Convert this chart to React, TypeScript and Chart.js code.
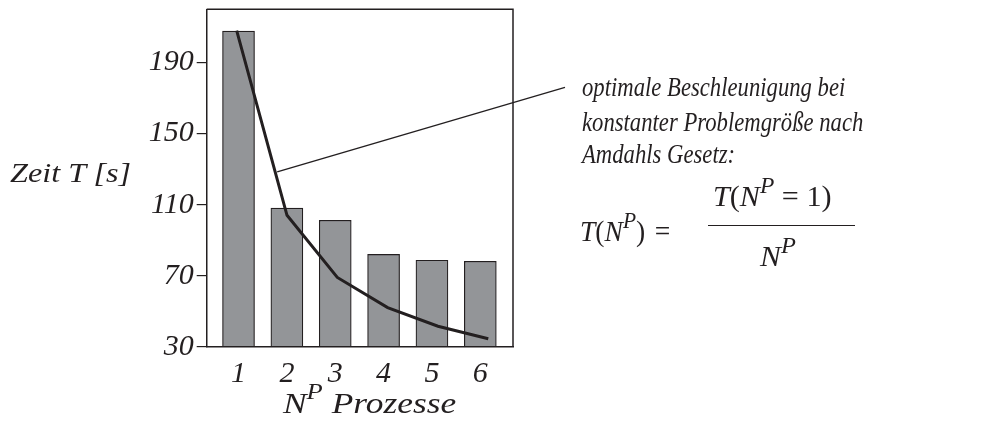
import React, { useEffect, useRef } from "react";
import { Chart, registerables } from "chart.js";

Chart.register(...registerables);

// ---- data ----
const processes = [1, 2, 3, 4, 5, 6];
const measuredTimes = [207.7, 108, 101.2, 82, 78.7, 78.1];
const amdahlTimes = [208, 104, 69, 52, 41.5, 34.5];
const yTicks = [30, 70, 110, 150, 190];
const yRange = [30, 220];

const INK = "#231f20";
const BAR = "#939598";
const FONT = "'Liberation Serif', 'Times New Roman', serif";

const boxPlugin = {
  id: "boxAndLeader",
  afterDatasetsDraw(chart: any) {
    const { ctx, chartArea: a } = chart;
    ctx.save();
    ctx.strokeStyle = INK;
    ctx.lineWidth = 1.5;
    ctx.beginPath();
    ctx.moveTo(a.left, a.top);
    ctx.lineTo(a.right, a.top);
    ctx.lineTo(a.right, a.bottom);
    ctx.stroke();
    const meta = chart.getDatasetMeta(1);
    const p0 = meta.data[0];
    const p1 = meta.data[1];
    if (p0 && p1) {
      const t = 0.765;
      const sx = p0.x + (p1.x - p0.x) * t + 2;
      const sy = p0.y + (p1.y - p0.y) * t;
      ctx.lineWidth = 1.3;
      ctx.beginPath();
      ctx.moveTo(sx, sy);
      ctx.lineTo(a.right + 52, a.top + 78);
      ctx.stroke();
    }
    ctx.restore();
  },
};

function Sup({ children, size = 0.7 }: { children: React.ReactNode; size?: number }) {
  return (
    <span style={{ fontSize: `${size}em`, position: "relative", top: "-0.6em" }}>{children}</span>
  );
}

function Line({ x, base, size, scale = 1, children }: any) {
  return (
    <div
      style={{
        position: "absolute",
        left: x,
        top: base - 0.8375 * size,
        fontSize: size,
        lineHeight: 1,
        whiteSpace: "nowrap",
        transform: `scaleX(${scale})`,
        transformOrigin: "left top",
      }}
    >
      {children}
    </div>
  );
}

const noPad = (s: any) => {
  s.paddingTop = 0;
  s.paddingBottom = 0;
  s.paddingLeft = 0;
  s.paddingRight = 0;
};

export default function App() {
  const ref = useRef<HTMLCanvasElement | null>(null);

  useEffect(() => {
    if (!ref.current) return;
    const tickFont = { family: FONT, size: 30, style: "italic" as const };
    const chart = new Chart(ref.current, {
      type: "bar",
      data: {
        datasets: [
          {
            type: "bar",
            data: processes.map((x, i) => ({ x, y: measuredTimes[i] })),
            backgroundColor: BAR,
            borderColor: INK,
            borderWidth: 1.2,
            barThickness: 32,
            grouped: false,
            base: yRange[0],
            xAxisID: "x",
            yAxisID: "y",
            order: 1,
          } as any,
          {
            type: "line",
            data: processes.map((x, i) => ({ x, y: amdahlTimes[i] })),
            borderColor: INK,
            borderWidth: 3,
            pointRadius: 0,
            tension: 0,
            xAxisID: "x2",
            yAxisID: "y",
            order: 0,
          } as any,
        ],
      },
      options: {
        animation: false,
        responsive: true,
        maintainAspectRatio: false,
        layout: { padding: { left: 0, top: 9.3, right: 468, bottom: 0 } },
        plugins: { legend: { display: false }, tooltip: { enabled: false } },
        scales: {
          x: {
            type: "linear",
            offset: false,
            min: 0.342,
            max: 6.676,
            afterBuildTicks: (s: any) => {
              s.ticks = processes.map((v) => ({ value: v }));
            },
            afterFit: (s: any) => {
              s.height = 74.3;
              noPad(s);
            },
            grid: { display: false, offset: false },
            border: { display: true, color: INK, width: 1.5 },
            ticks: { color: INK, font: tickFont, padding: 1, maxRotation: 0 },
          },
          x2: { type: "linear", display: false, offset: false, grid: { offset: false }, min: 0.404, max: 6.491 },
          y: {
            type: "linear",
            min: yRange[0],
            max: yRange[1],
            afterBuildTicks: (s: any) => {
              s.ticks = yTicks.map((v) => ({ value: v }));
            },
            afterFit: (s: any) => {
              s.width = 206.7;
              noPad(s);
            },
            grid: { drawOnChartArea: false, drawTicks: true, tickLength: 10, color: INK, lineWidth: 1.2 },
            border: { color: INK, width: 1.5 },
            ticks: { color: INK, font: tickFont, padding: 3 },
          },
        } as any,
      },
      plugins: [boxPlugin],
    });
    return () => chart.destroy();
  }, []);

  const textStyle: React.CSSProperties = {
    fontFamily: FONT,
    fontStyle: "italic",
    color: INK,
  };

  return (
    <div
      style={{
        position: "fixed",
        left: 0,
        top: 0,
        width: 981,
        height: 421,
        background: "#fff",
        overflow: "hidden",
        ...textStyle,
      }}
    >
      <canvas ref={ref} />
      <Line x={10} base={182.3} size={28} scale={1.15}>Zeit T [s]</Line>
      <Line x={283} base={413} size={30} scale={1.18}>
        N<Sup size={0.75}>P</Sup> Prozesse
      </Line>
      <Line x={582} base={96.7} size={27} scale={0.84}>optimale Beschleunigung bei</Line>
      <Line x={582} base={131.7} size={27} scale={0.84}>konstanter Problemgröße nach</Line>
      <Line x={582} base={164} size={27} scale={0.84}>Amdahls Gesetz:</Line>
      <Line x={580} base={241.7} size={29} scale={0.95}>
        T<span style={{ fontStyle: "normal" }}>(</span>N<Sup size={0.78}>P</Sup>
        <span style={{ fontStyle: "normal" }}>)</span>
        <span style={{ fontStyle: "normal", marginLeft: 10 }}>=</span>
      </Line>
      <Line x={713} base={206.7} size={29} scale={1.04}>
        T<span style={{ fontStyle: "normal" }}>(</span>N<Sup size={0.78}>P</Sup>
        <span style={{ fontStyle: "normal" }}> = 1)</span>
      </Line>
      <div style={{ position: "absolute", left: 708, top: 225, width: 147, height: 0, borderTop: `1.5px solid ${INK}` }} />
      <Line x={760} base={266.7} size={29} scale={1.08}>
        N<Sup size={0.78}>P</Sup>
      </Line>
    </div>
  );
}
